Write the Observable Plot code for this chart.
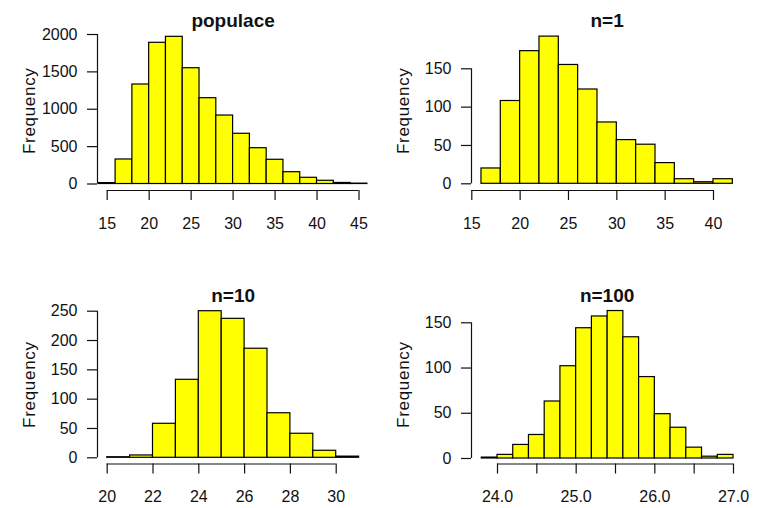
<!DOCTYPE html>
<html><head><meta charset="utf-8">
<script src="https://cdn.jsdelivr.net/npm/d3@7"></script>
<script src="https://cdn.jsdelivr.net/npm/@observablehq/plot@0.6"></script>
<style>
html,body{margin:0;padding:0;background:#fff;}
#wrap{position:relative;width:758px;height:508px;overflow:hidden;background:#fff;}
#wrap > .cell{position:absolute;}
#wrap text[transform*="rotate(-90)"]{letter-spacing:0.7px;}
</style></head><body><div id="wrap"></div>
<script>
// ---- populace ----
const popTitle = "populace";
const popBins = [14,16,18,20,22,24,26,28,30,32,34,36,38,40,42,44,46];
const popCounts = [12,328,1331,1889,1969,1549,1148,916,672,479,324,158,83,43,14,5];
const popXTicks = [15,20,25,30,35,40,45];
const popXLabels = ["15","20","25","30","35","40","45"];
const popYTicks = [0,500,1000,1500,2000];
const popYLabels = ["0","500","1000","1500","2000"];

// ---- n=1 ----
const n1Title = "n=1";
const n1Bins = [16,18,20,22,24,26,28,30,32,34,36,38,40,42];
const n1Counts = [20,108,173,192,155,123,80,57,51,27,6,2,6];
const n1XTicks = [15,20,25,30,35,40];
const n1XLabels = ["15","20","25","30","35","40"];
const n1YTicks = [0,50,100,150];
const n1YLabels = ["0","50","100","150"];

// ---- n=10 ----
const n10Title = "n=10";
const n10Bins = [20,21,22,23,24,25,26,27,28,29,30,31];
const n10Counts = [1,4,58,133,250,237,186,76,41,12,2];
const n10XTicks = [20,22,24,26,28,30];
const n10XLabels = ["20","22","24","26","28","30"];
const n10YTicks = [0,50,100,150,200,250];
const n10YLabels = ["0","50","100","150","200","250"];

// ---- n=100 ----
const n100Title = "n=100";
const n100Bins = [23.8,24.0,24.2,24.4,24.6,24.8,25.0,25.2,25.4,25.6,25.8,26.0,26.2,26.4,26.6,26.8,27.0];
const n100Counts = [1,4,15,26,63,102,144,157,163,134,90,49,34,12,2,4];
const n100XTicks = [24.0,24.5,25.0,25.5,26.0,26.5,27.0];
const n100XLabels = ["24.0","","25.0","","26.0","","27.0"];
const n100YTicks = [0,50,100,150];
const n100YLabels = ["0","50","100","150"];

const FONT = "'Liberation Sans', Arial, Helvetica, sans-serif";
const INK = "#111";

function panel(cfg) {
  const {title, bins, counts, xTicks, xLabels, yTicks, yLabels,
         width, height, xRange, yRange, mt, mb, titleDy} = cfg;
  const rows = counts.map((c, i) => ({x1: bins[i], x2: bins[i + 1], n: c}));
  const ml = 97;
  const mr = width - 368.2;
  const x0 = xTicks[0], x1 = xTicks[xTicks.length - 1];
  const y0 = yTicks[0], y1 = yTicks[yTicks.length - 1];
  const xInv = d3.scaleLinear().domain(xRange).range([x0, x1]);
  const yInv = d3.scaleLinear().domain(yRange).range([y0, y1]);
  const xAxisAt = yInv(height - mb);
  const yAxisAt = xInv(ml);
  return Plot.plot({
    width, height,
    marginLeft: ml, marginRight: mr, marginTop: mt, marginBottom: mb,
    x: {type: "linear", domain: [x0, x1], range: xRange},
    y: {type: "linear", domain: [y0, y1], range: yRange},
    style: {fontFamily: FONT, fontSize: "16px", color: INK, background: "#fff", overflow: "visible"},
    marks: [
      Plot.rect(rows, {x1: "x1", x2: "x2", y1: 0, y2: "n", fill: "#ffff00", stroke: "#000", strokeWidth: 1.2}),
      Plot.ruleY([xAxisAt], {x1: x0, x2: x1, stroke: INK, strokeWidth: 1.2}),
      Plot.ruleX([yAxisAt], {y1: y0, y2: y1, stroke: INK, strokeWidth: 1.2}),
      Plot.axisX(xTicks, {anchor: "bottom", tickSize: 10, tickPadding: 17, strokeWidth: 1.2,
        tickFormat: d => xLabels[xTicks.indexOf(d)], label: null, fontSize: 16}),
      Plot.axisY(yTicks, {anchor: "left", tickSize: 10, tickPadding: 10, strokeWidth: 1.2,
        tickFormat: d => yLabels[yTicks.indexOf(d)], label: null, fontSize: 16}),
      Plot.text([title], {frameAnchor: "top", textAnchor: "middle", lineAnchor: "bottom", dy: titleDy,
        fontWeight: "bold", fontSize: 19, fill: INK}),
      Plot.text(["Frequency"], {frameAnchor: "left", textAnchor: "middle", lineAnchor: "middle",
        rotate: -90, dx: -68, fontSize: 17, fill: INK})
    ]
  });
}

const cells = [
  {left: 0, top: 0, cfg: {title: popTitle, bins: popBins, counts: popCounts, xTicks: popXTicks, xLabels: popXLabels,
    yTicks: popYTicks, yLabels: popYLabels, width: 374, height: 254,
    xRange: [106.7, 358.5], yRange: [183.5, 34], mt: 30.5, mb: 64, titleDy: -4}},
  {left: 374, top: 0, cfg: {title: n1Title, bins: n1Bins, counts: n1Counts, xTicks: n1XTicks, xLabels: n1XLabels,
    yTicks: n1YTicks, yLabels: n1YLabels, width: 384, height: 254,
    xRange: [97.3, 339], yRange: [183.3, 68.3], mt: 30.5, mb: 64, titleDy: -4}},
  {left: 0, top: 254, cfg: {title: n10Title, bins: n10Bins, counts: n10Counts, xTicks: n10XTicks, xLabels: n10XLabels,
    yTicks: n10YTicks, yLabels: n10YLabels, width: 374, height: 254,
    xRange: [106.7, 335.7], yRange: [203.3, 56.7], mt: 50.7, mb: 44.5, titleDy: -3}},
  {left: 374, top: 254, cfg: {title: n100Title, bins: n100Bins, counts: n100Counts, xTicks: n100XTicks, xLabels: n100XLabels,
    yTicks: n100YTicks, yLabels: n100YLabels, width: 384, height: 254,
    xRange: [123, 359], yRange: [204, 68.3], mt: 50.7, mb: 44.5, titleDy: -3}}
];

const wrap = document.getElementById("wrap");
for (const c of cells) {
  const div = document.createElement("div");
  div.className = "cell";
  div.style.left = c.left + "px";
  div.style.top = c.top + "px";
  div.appendChild(panel(c.cfg));
  wrap.appendChild(div);
}
</script>
</body></html>
